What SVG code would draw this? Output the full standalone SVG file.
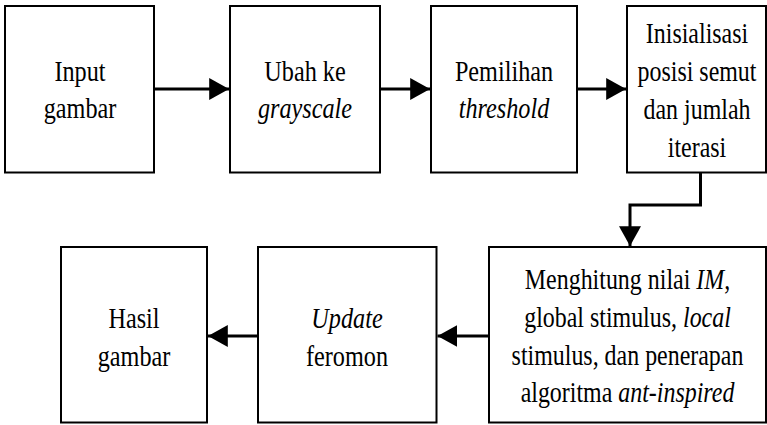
<svg xmlns="http://www.w3.org/2000/svg" width="767" height="425" viewBox="0 0 767 425">
<defs>
<style>
.box{fill:#fff;stroke:#000;stroke-width:2}
.t{font-family:'Liberation Serif','Times New Roman',serif;font-size:28.5px;fill:#000;text-anchor:middle}
.i{font-style:italic}
.c{fill:none;stroke:#000;stroke-width:3}
</style>
<marker id="ah" markerUnits="userSpaceOnUse" markerWidth="20" markerHeight="22" viewBox="0 0 18 20" refX="18" refY="10" orient="auto">
<path d="M0,0 L18,10 L0,20 Z" fill="#000"/>
</marker>
</defs>
<rect width="767" height="425" fill="#fff"/>
<g id="n1">
<rect class="box" x="5" y="6" width="149" height="166.5"/>
<text class="t" transform="translate(80,0) scale(0.85,1)"><tspan x="0" y="81">Input</tspan><tspan x="0" y="118">gambar</tspan></text>
</g>
<g id="n2">
<rect class="box" x="230" y="6" width="150" height="166.5"/>
<text class="t" transform="translate(305,0) scale(0.85,1)"><tspan x="0" y="81">Ubah ke</tspan><tspan x="0" y="118" class="i">grayscale</tspan></text>
</g>
<g id="n3">
<rect class="box" x="431" y="6" width="146" height="166.5"/>
<text class="t" transform="translate(504,0) scale(0.85,1)"><tspan x="0" y="81">Pemilihan</tspan><tspan x="0" y="118" class="i">threshold</tspan></text>
</g>
<g id="n4">
<rect class="box" x="627" y="6" width="139" height="166.5"/>
<text class="t" transform="translate(697,0) scale(0.84,1)"><tspan x="0" y="43">Inisialisasi</tspan><tspan x="0" y="81">posisi semut</tspan><tspan x="0" y="119">dan jumlah</tspan><tspan x="0" y="157">iterasi</tspan></text>
</g>
<g id="n5">
<rect class="box" x="489" y="247" width="277" height="175.5"/>
<text class="t" transform="translate(627.5,0) scale(0.84,1)"><tspan x="0" y="289">Menghitung nilai <tspan class="i">IM</tspan>,</tspan><tspan x="0" y="327">global stimulus, <tspan class="i">local</tspan></tspan><tspan x="0" y="365">stimulus, dan penerapan</tspan><tspan x="0" y="402">algoritma <tspan class="i">ant-inspired</tspan></tspan></text>
</g>
<g id="n6">
<rect class="box" x="258" y="247" width="178.5" height="175.5"/>
<text class="t" transform="translate(347,0) scale(0.85,1)"><tspan x="0" y="328" class="i">Update</tspan><tspan x="0" y="366">feromon</tspan></text>
</g>
<g id="n7">
<rect class="box" x="61" y="247" width="146" height="175.5"/>
<text class="t" transform="translate(134,0) scale(0.85,1)"><tspan x="0" y="328">Hasil</tspan><tspan x="0" y="366">gambar</tspan></text>
</g>
<g id="connectors">
<path class="c" d="M154,89 L229,89" marker-end="url(#ah)"/>
<path class="c" d="M380,89 L430,89" marker-end="url(#ah)"/>
<path class="c" d="M577,89 L626,89" marker-end="url(#ah)"/>
<path class="c" d="M700.5,172.5 L700.5,205 L630,205 L630,246" marker-end="url(#ah)"/>
<path class="c" d="M489,336 L437.5,336" marker-end="url(#ah)"/>
<path class="c" d="M258,336 L208,336" marker-end="url(#ah)"/>
</g>
</svg>
